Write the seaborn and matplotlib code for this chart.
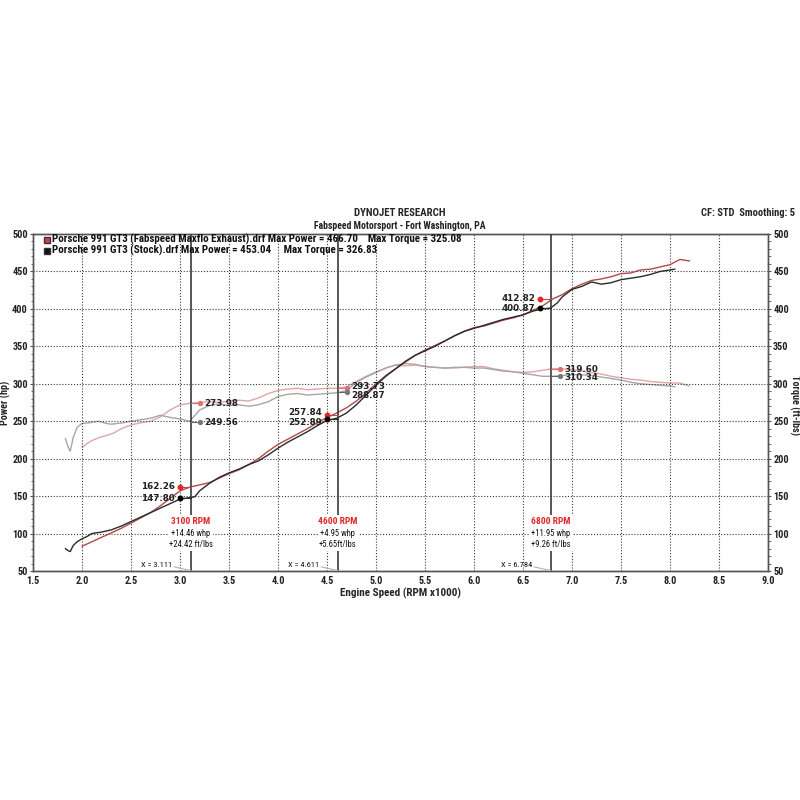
import numpy as np
import pandas as pd
import matplotlib
matplotlib.use("Agg")
import matplotlib.pyplot as plt
from matplotlib import font_manager
from matplotlib.ticker import MultipleLocator
import seaborn as sns

# ---------------- data ----------------
fab_hp_rpm = [2.00, 2.10, 2.20, 2.30, 2.40, 2.50, 2.60, 2.70, 2.80, 2.90, 3.00, 3.10, 3.20, 3.30,
              3.40, 3.50, 3.60, 3.70, 3.80, 3.90, 4.00, 4.10, 4.20, 4.30, 4.40, 4.50, 4.60, 4.70,
              4.80, 4.90, 5.00, 5.10, 5.20, 5.30, 5.40, 5.50, 5.60, 5.70, 5.80, 5.90, 6.00, 6.10,
              6.20, 6.30, 6.40, 6.50, 6.60, 6.70, 6.80, 6.90, 7.00, 7.10, 7.20, 7.30, 7.40, 7.50,
              7.60, 7.70, 7.80, 7.90, 8.00, 8.10, 8.15, 8.20]
fab_hp = [83, 89, 95, 101, 107, 114, 121, 128, 137, 147, 157, 162, 165, 168,
          174, 180, 185, 192, 200, 210, 219, 226, 233, 240, 248, 255, 261, 268,
          277, 288, 300, 311, 320, 329, 338, 345, 351, 357, 364, 370, 375, 377,
          381, 385, 388, 392, 398, 404, 413, 419, 427, 433, 438, 440, 443, 447,
          448, 452, 453, 456, 459, 466, 465, 464]

stk_hp_rpm = [1.83, 1.86, 1.88, 1.91, 1.95, 2.00, 2.05, 2.10, 2.20, 2.30, 2.40, 2.50, 2.60, 2.70,
              2.80, 2.90, 3.00, 3.10, 3.15, 3.20, 3.30, 3.40, 3.50, 3.60, 3.70, 3.80, 3.90, 4.00,
              4.10, 4.20, 4.30, 4.40, 4.50, 4.60, 4.70, 4.80, 4.90, 5.00, 5.10, 5.20, 5.30, 5.40,
              5.50, 5.60, 5.70, 5.80, 5.90, 6.00, 6.10, 6.20, 6.30, 6.40, 6.50, 6.60, 6.70, 6.78,
              6.85, 6.90, 7.00, 7.10, 7.20, 7.30, 7.40, 7.50, 7.60, 7.70, 7.80, 7.90, 8.00, 8.05]
stk_hp = [80, 77, 76, 84, 89, 93, 96, 100, 102, 105, 110, 116, 122, 128,
          134, 140, 146, 148, 149, 157, 167, 175, 181, 186, 192, 197, 205, 214,
          222, 229, 236, 244, 251, 254, 261, 272, 285, 298, 310, 320, 330, 338,
          344, 350, 357, 364, 370, 374, 378, 382, 386, 389, 392, 397, 400, 401,
          408, 416, 426, 430, 436, 433, 435, 439, 441, 443, 446, 450, 452, 453]

fab_tq_rpm = [2.00, 2.05, 2.10, 2.17, 2.25, 2.32, 2.40, 2.50, 2.60, 2.70, 2.80, 2.90, 3.00, 3.10,
              3.20, 3.30, 3.40, 3.50, 3.60, 3.70, 3.80, 3.90, 4.00, 4.10, 4.20, 4.30, 4.40, 4.50,
              4.60, 4.70, 4.80, 4.90, 5.00, 5.10, 5.20, 5.30, 5.40, 5.50, 5.60, 5.70, 5.80, 5.90,
              6.00, 6.10, 6.20, 6.30, 6.40, 6.50, 6.60, 6.70, 6.80, 6.90, 7.00, 7.10, 7.20, 7.30,
              7.40, 7.50, 7.60, 7.70, 7.80, 7.90, 8.00, 8.10, 8.20]
fab_tq = [215, 220, 224, 228, 231, 234, 240, 245, 248, 250, 256, 265, 272, 274,
          275, 276, 275, 277, 278, 277, 281, 287, 291, 293, 294, 292, 293, 294,
          294, 296, 303, 310, 316, 321, 325, 324, 325, 323, 322, 321, 321, 322,
          323, 323, 320, 318, 316, 315, 316, 318, 320, 320, 319, 317, 315, 313,
          310, 308, 306, 305, 303, 302, 301, 301, 297]

stk_tq_rpm = [1.83, 1.86, 1.88, 1.91, 1.95, 2.00, 2.08, 2.17, 2.25, 2.30, 2.42, 2.50, 2.60, 2.70,
              2.80, 2.90, 3.00, 3.10, 3.20, 3.30, 3.40, 3.50, 3.60, 3.70, 3.80, 3.90, 4.00, 4.10,
              4.20, 4.30, 4.40, 4.50, 4.60, 4.70, 4.80, 4.90, 5.00, 5.10, 5.20, 5.30, 5.40, 5.50,
              5.60, 5.70, 5.80, 5.90, 6.00, 6.10, 6.20, 6.30, 6.40, 6.50, 6.60, 6.70, 6.80, 6.90,
              7.00, 7.10, 7.20, 7.30, 7.40, 7.50, 7.60, 7.70, 7.80, 7.90, 8.00, 8.05]
stk_tq = [227, 215, 210, 228, 242, 247, 248, 250, 247, 246, 248, 250, 252, 254,
          258, 255, 253, 250, 265, 271, 273, 271, 272, 270, 272, 276, 283, 286,
          287, 285, 286, 287, 288, 291, 302, 309, 315, 321, 325, 327, 326, 323,
          322, 321, 322, 322, 321, 321, 319, 317, 316, 314, 312, 310, 310, 311,
          312, 312, 311, 309, 307, 305, 302, 300, 299, 298, 297, 296]

cursor_x = [3.111, 4.611, 6.784]
cursor_title = ["3100 RPM", "4600 RPM", "6800 RPM"]
cursor_whp = ["+14.46 whp", "+4.95 whp", "+11.95 whp"]
cursor_tq = ["+24.42 ft/lbs", "+5.65ft/lbs", "+9.26 ft/lbs"]
cursor_lbl = ["X = 3.111", "X = 4.611", "X = 6.784"]
fab_hp_cur = [162.26, 257.84, 412.82]
stk_hp_cur = [147.80, 252.89, 400.87]
fab_tq_cur = [273.98, 293.73, 319.60]
stk_tq_cur = [249.56, 288.87, 310.34]

x_ticks = [1.5, 2.0, 2.5, 3.0, 3.5, 4.0, 4.5, 5.0, 5.5, 6.0, 6.5, 7.0, 7.5, 8.0, 8.5, 9.0]
y_ticks = [50, 100, 150, 200, 250, 300, 350, 400, 450, 500]

legend_lines = ["Porsche 991 GT3 (Fabspeed Maxflo Exhaust).drf Max Power = 466.70    Max Torque = 325.08",
                "Porsche 991 GT3 (Stock).drf Max Power = 453.04     Max Torque = 326.83"]

# ---------------- style ----------------
sns.set_style("white")
names = {f.name for f in font_manager.fontManager.ttflist}
narrow = None
for cand in ["Liberation Sans Narrow", "DejaVu Sans Condensed", "Roboto Condensed", "Open Sans Condensed"]:
    if cand in names:
        narrow = cand
        break
if narrow is None:
    narrow = "DejaVu Sans"
plt.rcParams['font.family'] = ['DejaVu Sans']
NF = [narrow, 'DejaVu Sans']

C_FAB_HP = '#b04a48'
C_STK_HP = '#2b2b2b'
C_FAB_TQ = '#e3a4a4'
C_STK_TQ = '#a6a6a6'
C_RED = '#e02828'

fig = plt.figure(figsize=(8, 8), dpi=100)
ax = fig.add_axes([33/800, 1-571/800, 735/800, 337/800])
ax2 = ax.twinx()

for a in (ax, ax2):
    a.set_xlim(1.5, 9.0)
    a.set_ylim(50, 500)

# grid
ax.xaxis.set_minor_locator(MultipleLocator(0.1))
ax.yaxis.set_minor_locator(MultipleLocator(10))
ax2.yaxis.set_minor_locator(MultipleLocator(10))
ax.set_xticks(x_ticks)
ax.set_yticks(y_ticks)
ax2.set_yticks(y_ticks)
ax.grid(True, which='major', ls=(0, (1, 1.6)), color='#3a3a3a', lw=0.8)
ax.set_axisbelow(True)

# curves
sns.lineplot(x=fab_tq_rpm, y=fab_tq, ax=ax2, color=C_FAB_TQ, lw=1.0, estimator=None, sort=False)
sns.lineplot(x=stk_tq_rpm, y=stk_tq, ax=ax2, color=C_STK_TQ, lw=1.0, estimator=None, sort=False)
sns.lineplot(x=fab_hp_rpm, y=fab_hp, ax=ax, color=C_FAB_HP, lw=1.0, estimator=None, sort=False)
sns.lineplot(x=stk_hp_rpm, y=stk_hp, ax=ax, color=C_STK_HP, lw=1.0, estimator=None, sort=False)
ax.set_zorder(ax2.get_zorder() + 1)
ax.patch.set_visible(False)

# cursor lines and annotations
fsz = 6.3
hp_off = [(1, -1), (3.5, -4.5), (1, -1)]
tq_off = [(0, -1.5), (2.5, -4), (0, -1.5)]
for i, cx in enumerate(cursor_x):
    ax.axvline(cx, color='#3a3a3a', lw=1.2, zorder=3)
    # power markers (left of cursor)
    px = cx - 0.11
    ax.plot([px, cx], [fab_hp_cur[i]] * 2, color=C_FAB_HP, lw=0.8, zorder=4)
    ax.plot([px, cx], [stk_hp_cur[i]] * 2, color=C_STK_HP, lw=0.8, zorder=4)
    ax.plot(px, fab_hp_cur[i], 'o', color=C_RED, ms=3.2, zorder=5)
    ax.plot(px, stk_hp_cur[i], 'o', color='black', ms=3.2, zorder=5)
    ax.text(px - 0.05, fab_hp_cur[i] + hp_off[i][0], f"{fab_hp_cur[i]:.2f}", ha='right', va='center',
            fontsize=fsz, fontweight='bold', color='#222', zorder=6)
    ax.text(px - 0.05, stk_hp_cur[i] + hp_off[i][1], f"{stk_hp_cur[i]:.2f}", ha='right', va='center',
            fontsize=fsz, fontweight='bold', color='#222', zorder=6)
    # torque markers (right of cursor)
    tx = cx + 0.09
    ax.plot([cx, tx], [fab_tq_cur[i]] * 2, color='#e07070', lw=0.8, zorder=4)
    ax.plot([cx, tx], [stk_tq_cur[i]] * 2, color='#666666', lw=0.8, zorder=4)
    ax.plot(tx, fab_tq_cur[i], 'o', color='#e07070', ms=2.8, zorder=5)
    ax.plot(tx, stk_tq_cur[i], 'o', color='#777777', ms=2.8, zorder=5)
    ax.text(tx + 0.05, fab_tq_cur[i] + tq_off[i][0], f"{fab_tq_cur[i]:.2f}", ha='left', va='center',
            fontsize=fsz, fontweight='bold', color='#222', zorder=6)
    ax.text(tx + 0.05, stk_tq_cur[i] + tq_off[i][1], f"{stk_tq_cur[i]:.2f}", ha='left', va='center',
            fontsize=fsz, fontweight='bold', color='#222', zorder=6)
    # delta text block
    bb = dict(facecolor='white', edgecolor='none', pad=1.6)
    ax.text(cx, 115.5, cursor_title[i], ha='center', va='center', fontsize=6.8,
            fontweight='bold', color=C_RED, family=NF, bbox=bb, zorder=6)
    ax.text(cx, 100.5, cursor_whp[i], ha='center', va='center', fontsize=6.2,
            color='#111', family=NF, bbox=bb, zorder=6)
    ax.text(cx, 85.5, cursor_tq[i], ha='center', va='center', fontsize=6.2,
            color='#111', family=NF, bbox=bb, zorder=6)
    ax.text(cx - 0.19, 58, cursor_lbl[i], ha='right', va='center', fontsize=6.0,
            color='#111', family=NF, zorder=6)
    ax.plot([cx - 0.17, cx], [55.5, 50.5], color='#b0b0b0', lw=0.8, zorder=4)

# legend text
ax.plot(1.64, 492.5, 's', color='#d04040', mec='#333', ms=5, zorder=6)
ax.plot(1.64, 477.5, 's', color='#111111', mec='#333', ms=5, zorder=6)
ax.text(1.69, 492.5, legend_lines[0], ha='left', va='center', fontsize=7.9, fontweight='bold',
        color='#111', family=NF, zorder=6)
ax.text(1.69, 477.5, legend_lines[1], ha='left', va='center', fontsize=7.9, fontweight='bold',
        color='#111', family=NF, zorder=6)

# ticks and spines
for a in (ax, ax2):
    for s in a.spines.values():
        s.set_color('#555555')
        s.set_linewidth(1.0)
ax.tick_params(axis='both', which='major', length=2.5, width=0.8, color='#555', direction='out', pad=1.2)
ax.tick_params(axis='both', which='minor', length=1.8, width=0.6, color='#555', direction='out')
ax2.tick_params(axis='y', which='major', length=2.5, width=0.8, color='#555', direction='out', pad=1.2)
ax2.tick_params(axis='y', which='minor', length=1.8, width=0.6, color='#555', direction='out')
tick_font = dict(fontsize=7.4, fontweight='bold', family=NF, color='#222')
ax.set_xticklabels([f"{v:.1f}" for v in x_ticks], **tick_font)
ax.set_yticklabels([str(v) for v in y_ticks], **tick_font)
ax2.set_yticklabels([str(v) for v in y_ticks], **tick_font)

ax.set_xlabel("Engine Speed (RPM x1000)", fontsize=8, fontweight='bold', family=NF, labelpad=1)
ax.set_ylabel("")
ax2.set_ylabel("")
fig.text(5.5/800, 1 - 403/800, "Power (hp)", rotation=90, ha='center', va='center',
         fontsize=7.3, fontweight='bold', family=NF)
fig.text(795/800, 1 - 405/800, "Torque (ft-lbs)", rotation=270, ha='center', va='center',
         fontsize=7.3, fontweight='bold', family=NF)

# titles
fig.text(0.5, 1 - 213/800, "DYNOJET RESEARCH", ha='center', va='center', fontsize=7.8,
         fontweight='bold', family=NF)
fig.text(0.5, 1 - 226/800, "Fabspeed Motorsport - Fort Washington, PA", ha='center', va='center',
         fontsize=7, fontweight='bold', family=NF, color='#222')
fig.text(795/800, 1 - 213/800, "CF: STD  Smoothing: 5", ha='right', va='center', fontsize=7.6,
         fontweight='bold', family=NF)

fig.savefig("out.png", dpi=100, facecolor='white')
